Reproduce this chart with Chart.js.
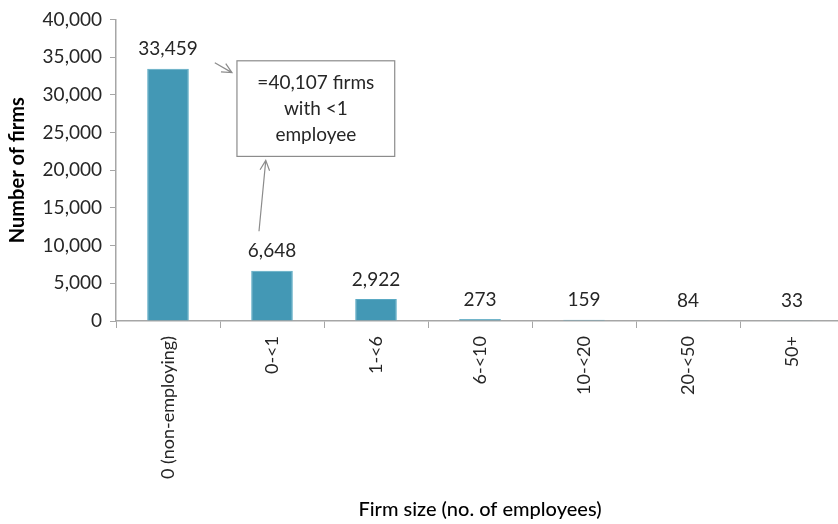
<!DOCTYPE html>
<html>
<head>
<meta charset="utf-8">
<script src="https://cdn.jsdelivr.net/npm/chart.js@4.4.1/dist/chart.umd.min.js"></script>
<style>
  html, body { margin: 0; padding: 0; background: #fff; overflow: hidden; }
</style>
</head>
<body>
<canvas id="firmChart" width="844" height="524"></canvas>
<script>
// firm counts by size band
const sizeBands = ['0 (non-employing)', '0-<1', '1-<6', '6-<10', '10-<20', '20-<50', '50+'];
const firmCounts = [33459, 6648, 2922, 273, 159, 84, 33];
const yTicks = [0, 5000, 10000, 15000, 20000, 25000, 30000, 35000, 40000];
const noteLines = ['=40,107 firms', 'with <1', 'employee'];

const fontFamily = 'Lato, "Noto Sans", sans-serif';
const axisGrey = '#a6a6a6';

function fmt(v) {
    return v.toLocaleString('en-US');
}

// value labels above each bar
const barLabels = {
    id: 'barLabels',
    afterDatasetsDraw(chart) {
        const ctx = chart.ctx;
        const meta = chart.getDatasetMeta(0);
        ctx.save();
        ctx.font = '19px ' + fontFamily;
        ctx.fillStyle = '#262626';
        ctx.textAlign = 'center';
        ctx.textBaseline = 'bottom';
        meta.data.forEach(function(bar, i) {
            ctx.fillText(fmt(firmCounts[i]), bar.x, bar.y - 10);
        });
        ctx.restore();
    }
};

function arrow(ctx, x1, y1, x2, y2) {
    const ang = Math.atan2(y2 - y1, x2 - x1);
    const head = 11;
    ctx.beginPath();
    ctx.moveTo(x1, y1);
    ctx.lineTo(x2, y2);
    ctx.moveTo(x2 - head * Math.cos(ang - 0.45), y2 - head * Math.sin(ang - 0.45));
    ctx.lineTo(x2, y2);
    ctx.lineTo(x2 - head * Math.cos(ang + 0.45), y2 - head * Math.sin(ang + 0.45));
    ctx.stroke();
}

// callout box with two arrows, placed in data units
const callout = {
    id: 'callout',
    afterDraw(chart) {
        const ctx = chart.ctx;
        const x = chart.scales.x, y = chart.scales.y;
        const left = x.getPixelForValue(0.663), right = x.getPixelForValue(2.18);
        const top = y.getPixelForValue(34510), bottom = y.getPixelForValue(21830);
        ctx.save();
        ctx.strokeStyle = '#8c8c8c';
        ctx.lineWidth = 1.2;
        ctx.fillStyle = '#fff';
        ctx.fillRect(left, top, right - left, bottom - top);
        ctx.strokeRect(left, top, right - left, bottom - top);
        ctx.font = '19px ' + fontFamily;
        ctx.fillStyle = '#262626';
        ctx.textAlign = 'center';
        ctx.textBaseline = 'middle';
        const cx = (left + right) / 2;
        const midY = (top + bottom) / 2;
        noteLines.forEach(function(line, i) {
            ctx.fillText(line, cx, midY + (i - 1) * 26);
        });
        ctx.strokeStyle = '#8c8c8c';
        arrow(ctx, x.getPixelForValue(0.45), y.getPixelForValue(34250),
                   x.getPixelForValue(0.615), y.getPixelForValue(32940));
        arrow(ctx, x.getPixelForValue(0.875), y.getPixelForValue(11900),
                   x.getPixelForValue(0.94), y.getPixelForValue(21300));
        ctx.restore();
    }
};

new Chart(document.getElementById('firmChart'), {
    type: 'bar',
    data: {
        labels: sizeBands,
        datasets: [{
            data: firmCounts,
            backgroundColor: '#4398b5',
            borderColor: '#5aaac4',
            borderWidth: 1,
            categoryPercentage: 1,
            barPercentage: 0.4
        }]
    },
    options: {
        responsive: false,
        animation: false,
        layout: { padding: { top: 15, right: 0, left: 0, bottom: 0 } },
        plugins: {
            legend: { display: false },
            tooltip: { enabled: false }
        },
        scales: {
            x: {
                grid: {
                    drawOnChartArea: false,
                    drawTicks: true,
                    tickLength: 7,
                    color: axisGrey,
                    offset: true
                },
                border: { color: axisGrey, width: 1.5 },
                ticks: {
                    minRotation: 90,
                    maxRotation: 90,
                    padding: 8,
                    color: '#262626',
                    font: { family: fontFamily, size: 18 }
                },
                title: {
                    display: true,
                    text: 'Firm size (no. of employees)',
                    color: '#000',
                    font: { family: fontFamily, size: 20, weight: '500' },
                    padding: { top: 0, bottom: 2 }
                },
                afterFit(scale) { scale.height = 203; }
            },
            y: {
                min: 0,
                max: 40000,
                afterBuildTicks(scale) {
                    scale.ticks = yTicks.map(v => ({ value: v }));
                },
                grid: {
                    drawOnChartArea: false,
                    drawTicks: true,
                    tickLength: 6,
                    color: axisGrey
                },
                border: { color: axisGrey, width: 1.5 },
                ticks: {
                    padding: 8,
                    color: '#262626',
                    font: { family: fontFamily, size: 19 },
                    callback: v => fmt(v)
                },
                title: {
                    display: true,
                    text: 'Number of firms',
                    color: '#000',
                    font: { family: fontFamily, size: 20, weight: 'bold' },
                    padding: { top: 6, bottom: 0 }
                },
                afterFit(scale) { scale.width = 116; }
            }
        }
    },
    plugins: [barLabels, callout]
});
</script>
</body>
</html>
